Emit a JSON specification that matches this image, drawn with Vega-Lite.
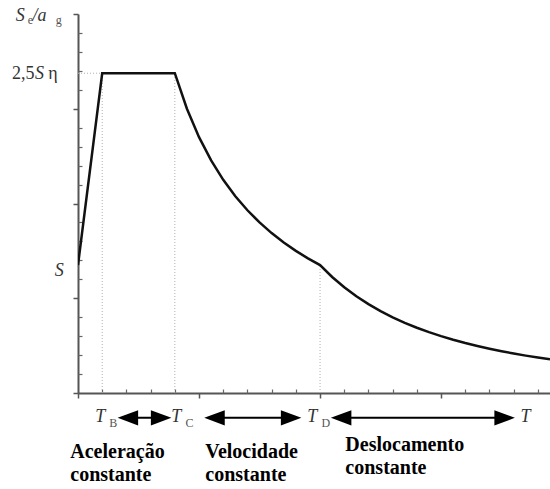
{
  "$schema": "https://vega.github.io/schema/vega-lite/v6.json",
  "autosize": "none",
  "width": 472,
  "height": 379,
  "padding": {"left": 78, "top": 14, "right": 0, "bottom": 96},
  "background": "white",
  "config": {"view": {"stroke": null}},
  "datasets": {
    "curve": [
      {"x": 0, "y": 1.35}, {"x": 0.2, "y": 3.375}, {"x": 0.8, "y": 3.375},
      {"x": 0.9, "y": 3.0}, {"x": 1.0, "y": 2.7}, {"x": 1.1, "y": 2.4545},
      {"x": 1.2, "y": 2.25}, {"x": 1.3, "y": 2.0769}, {"x": 1.4, "y": 1.9286},
      {"x": 1.5, "y": 1.8}, {"x": 1.6, "y": 1.6875}, {"x": 1.7, "y": 1.5882},
      {"x": 1.8, "y": 1.5}, {"x": 1.9, "y": 1.4211}, {"x": 2.0, "y": 1.35},
      {"x": 2.1, "y": 1.2245}, {"x": 2.2, "y": 1.1157}, {"x": 2.3, "y": 1.0208},
      {"x": 2.4, "y": 0.9375}, {"x": 2.5, "y": 0.864}, {"x": 2.6, "y": 0.7988},
      {"x": 2.7, "y": 0.7407}, {"x": 2.8, "y": 0.6888}, {"x": 2.9, "y": 0.6421},
      {"x": 3.0, "y": 0.6}, {"x": 3.1, "y": 0.5619}, {"x": 3.2, "y": 0.5273},
      {"x": 3.3, "y": 0.4959}, {"x": 3.4, "y": 0.4671}, {"x": 3.5, "y": 0.4408},
      {"x": 3.6, "y": 0.4167}, {"x": 3.7, "y": 0.3944}, {"x": 3.8, "y": 0.374},
      {"x": 3.9, "y": 0.355}
    ],
    "dotted": [
      {"x": 0.2, "x2": 0.2, "y": 0, "y2": 3.375},
      {"x": 0.8, "x2": 0.8, "y": 0, "y2": 3.375},
      {"x": 2.0, "x2": 2.0, "y": 0, "y2": 1.35},
      {"x": 0, "x2": 0.2, "y": 3.375, "y2": 3.375}
    ],
    "italic": [
      {"x": 0.184, "y": -0.309, "t": "T"},
      {"x": 0.812, "y": -0.309, "t": "T"},
      {"x": 1.936, "y": -0.309, "t": "T"},
      {"x": 3.697, "y": -0.309, "t": "T"},
      {"x": -0.155, "y": 1.232, "t": "S"},
      {"x": -0.318, "y": 3.311, "t": "S"},
      {"x": -0.477, "y": 3.923, "t": "S"},
      {"x": -0.318, "y": 3.923, "t": "/a"}
    ],
    "upright": [
      {"x": -0.452, "y": 3.311, "t": "2,5"},
      {"x": -0.206, "y": 3.311, "t": "η"}
    ],
    "subs": [
      {"x": 0.292, "y": -0.362, "t": "B"},
      {"x": 0.921, "y": -0.362, "t": "C"},
      {"x": 2.048, "y": -0.362, "t": "D"},
      {"x": -0.394, "y": 3.891, "t": "e"},
      {"x": -0.16, "y": 3.891, "t": "g"}
    ],
    "bold": [
      {"x": -0.064, "y": -0.690, "t": "Aceleração"},
      {"x": -0.064, "y": -0.925, "t": "constante"},
      {"x": 1.052, "y": -0.690, "t": "Velocidade"},
      {"x": 1.052, "y": -0.925, "t": "constante"},
      {"x": 2.209, "y": -0.616, "t": "Deslocamento"},
      {"x": 2.209, "y": -0.851, "t": "constante"}
    ],
    "shafts": [
      {"x": 0.412, "x2": 0.687, "y": -0.262},
      {"x": 1.128, "x2": 1.761, "y": -0.262},
      {"x": 2.174, "x2": 3.525, "y": -0.262}
    ],
    "heads": [
      {"x": 0.412, "y": -0.262, "dir": "left"},
      {"x": 0.687, "y": -0.262, "dir": "right"},
      {"x": 1.128, "y": -0.262, "dir": "left"},
      {"x": 1.761, "y": -0.262, "dir": "right"},
      {"x": 2.174, "y": -0.262, "dir": "left"},
      {"x": 3.525, "y": -0.262, "dir": "right"}
    ]
  },
  "resolve": {"axis": {"x": "independent", "y": "independent"}},
  "layer": [
    {
      "data": {"name": "dotted"},
      "mark": {"type": "rule", "color": "#b0b0b0", "strokeWidth": 1, "strokeDash": [1, 2]},
      "encoding": {
        "x": {"field": "x", "type": "quantitative", "scale": {"domain": [0, 3.9]}, "axis": null},
        "x2": {"field": "x2"},
        "y": {"field": "y", "type": "quantitative", "scale": {"domain": [0, 4]}, "axis": null},
        "y2": {"field": "y2"}
      }
    },
    {
      "data": {"name": "curve"},
      "mark": {"type": "line", "color": "#111", "strokeWidth": 2.5, "clip": true},
      "encoding": {
        "x": {"field": "x", "type": "quantitative", "scale": {"domain": [0, 3.9]},
          "axis": {"orient": "bottom", "values": [0, 1, 2, 3], "tickSize": 5, "labels": false, "title": null, "grid": false,
            "domainColor": "#555", "domainWidth": 2, "tickColor": "#555", "tickWidth": 1.5}},
        "y": {"field": "y", "type": "quantitative", "scale": {"domain": [0, 4]},
          "axis": {"orient": "left", "values": [0, 1, 2, 3, 4], "tickSize": 5, "labels": false, "title": null, "grid": false,
            "domainColor": "#555", "domainWidth": 2, "tickColor": "#555", "tickWidth": 1.5}}
      }
    },
    {
      "data": {"name": "curve"},
      "mark": {"type": "point", "opacity": 0},
      "encoding": {
        "x": {"field": "x", "type": "quantitative", "scale": {"domain": [0, 3.9]},
          "axis": {"orient": "bottom", "values": [0.2, 0.4, 0.6, 0.8, 1.2, 1.4, 1.6, 1.8, 2.2, 2.4, 2.6, 2.8, 3.2, 3.4, 3.6, 3.8],
            "tickSize": -4, "labels": false, "domain": false, "title": null, "grid": false, "tickColor": "#666", "tickWidth": 1.2}},
        "y": {"field": "y", "type": "quantitative", "scale": {"domain": [0, 4]},
          "axis": {"orient": "left", "values": [0.2, 0.4, 0.6, 0.8, 1.2, 1.4, 1.6, 1.8, 2.2, 2.4, 2.6, 2.8, 3.2, 3.4, 3.6, 3.8],
            "tickSize": -4, "labels": false, "domain": false, "title": null, "grid": false, "tickColor": "#666", "tickWidth": 1.2}}
      }
    },
    {
      "mark": {"type": "rule", "color": "#555", "strokeWidth": 2},
      "encoding": {
        "y": {"datum": 4, "type": "quantitative", "scale": {"domain": [0, 4]}, "axis": null}
      }
    },
    {
      "data": {"name": "italic"},
      "mark": {"type": "text", "font": "Liberation Serif", "fontStyle": "italic", "fontSize": 18, "color": "#333", "align": "center", "baseline": "alphabetic"},
      "encoding": {
        "x": {"field": "x", "type": "quantitative", "scale": {"domain": [0, 3.9]}, "axis": null},
        "y": {"field": "y", "type": "quantitative", "scale": {"domain": [0, 4]}, "axis": null},
        "text": {"field": "t"}
      }
    },
    {
      "data": {"name": "upright"},
      "mark": {"type": "text", "font": "Liberation Serif", "fontSize": 18, "color": "#333", "align": "center", "baseline": "alphabetic"},
      "encoding": {
        "x": {"field": "x", "type": "quantitative", "scale": {"domain": [0, 3.9]}, "axis": null},
        "y": {"field": "y", "type": "quantitative", "scale": {"domain": [0, 4]}, "axis": null},
        "text": {"field": "t"}
      }
    },
    {
      "data": {"name": "subs"},
      "mark": {"type": "text", "font": "Liberation Serif", "fontSize": 12, "color": "#555", "align": "center", "baseline": "alphabetic"},
      "encoding": {
        "x": {"field": "x", "type": "quantitative", "scale": {"domain": [0, 3.9]}, "axis": null},
        "y": {"field": "y", "type": "quantitative", "scale": {"domain": [0, 4]}, "axis": null},
        "text": {"field": "t"}
      }
    },
    {
      "data": {"name": "bold"},
      "mark": {"type": "text", "font": "Liberation Serif", "fontWeight": "bold", "fontSize": 20, "color": "#000", "align": "left", "baseline": "alphabetic"},
      "encoding": {
        "x": {"field": "x", "type": "quantitative", "scale": {"domain": [0, 3.9]}, "axis": null},
        "y": {"field": "y", "type": "quantitative", "scale": {"domain": [0, 4]}, "axis": null},
        "text": {"field": "t"}
      }
    },
    {
      "data": {"name": "shafts"},
      "mark": {"type": "rule", "color": "#000", "strokeWidth": 2},
      "encoding": {
        "x": {"field": "x", "type": "quantitative", "scale": {"domain": [0, 3.9]}, "axis": null},
        "x2": {"field": "x2"},
        "y": {"field": "y", "type": "quantitative", "scale": {"domain": [0, 4]}, "axis": null}
      }
    },
    {
      "data": {"name": "heads"},
      "mark": {"type": "point", "filled": true, "color": "#000", "opacity": 1, "size": 420, "strokeWidth": 0},
      "encoding": {
        "x": {"field": "x", "type": "quantitative", "scale": {"domain": [0, 3.9]}, "axis": null},
        "y": {"field": "y", "type": "quantitative", "scale": {"domain": [0, 4]}, "axis": null},
        "shape": {"field": "dir", "type": "nominal", "legend": null,
          "scale": {"domain": ["left", "right"], "range": ["M-1,0L1,-0.75L1,0.75Z", "M1,0L-1,-0.75L-1,0.75Z"]}}
      }
    }
  ]
}
